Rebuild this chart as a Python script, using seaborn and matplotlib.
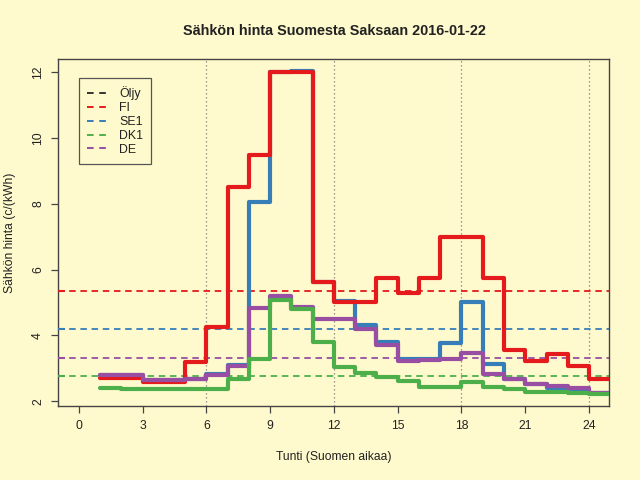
import numpy as np
import pandas as pd
import matplotlib
matplotlib.use("Agg")
import matplotlib.pyplot as plt
import seaborn as sns
from matplotlib.lines import Line2D
from matplotlib.transforms import blended_transform_factory

# ---- data ----
hours = list(range(1, 25))
FI = [2.71, 2.71, 2.59, 2.59, 3.19, 4.26, 8.51, 9.50, 12.00, 12.00, 5.63, 5.03,
      5.03, 5.76, 5.28, 5.76, 7.00, 7.00, 5.76, 3.57, 3.22, 3.45, 3.06, 2.67]
SE1 = [2.79, 2.79, 2.64, 2.64, 2.69, 2.83, 3.09, 8.06, 12.00, 12.03, 5.63, 5.06,
       4.32, 3.81, 3.29, 3.29, 3.76, 5.01, 3.12, 2.69, 2.54, 2.39, 2.33, 2.25]
DK1 = [2.39, 2.38, 2.37, 2.37, 2.36, 2.36, 2.68, 3.29, 5.08, 4.82, 3.79, 3.05,
       2.87, 2.75, 2.62, 2.44, 2.44, 2.60, 2.44, 2.37, 2.29, 2.27, 2.25, 2.22]
DE = [2.79, 2.79, 2.64, 2.64, 2.69, 2.81, 3.07, 4.83, 5.21, 4.87, 4.49, 4.49,
      4.20, 3.71, 3.23, 3.24, 3.29, 3.48, 2.82, 2.67, 2.54, 2.47, 2.39, 2.25]
mean_names = ["FI", "SE1", "DE", "DK1"]
mean_values = [5.353, 4.188, 3.325, 2.778]
legend_labels = ["Öljy", "FI", "SE1", "DK1", "DE"]
x_ticks = [0, 3, 6, 9, 12, 15, 18, 21, 24]
y_ticks = [2, 4, 6, 8, 10, 12]
grid_hours = [6, 12, 18, 24]

colors = {"Öljy": "#333333", "FI": "#E41A1C", "SE1": "#377EB8",
          "DK1": "#4DAF4A", "DE": "#984EA3"}
bg = "#FFFACD"

series = {"FI": FI, "SE1": SE1, "DK1": DK1, "DE": DE}
rows = []
for name, vals in series.items():
    # steps-post: each hour's price spans [h, h+1]; repeat last value to close the final step
    xs = hours + [hours[-1] + 1]
    ys = vals + [vals[-1]]
    for x, y in zip(xs, ys):
        rows.append({"hour": x, "price": y, "area": name})
df = pd.DataFrame(rows)

sns.set_theme(style="ticks", rc={"axes.facecolor": bg, "figure.facecolor": bg})
plt.rcParams["font.family"] = ["Liberation Sans", "DejaVu Sans"]

txt = "#222222"
fig = plt.figure(figsize=(6.4, 4.8), dpi=100)
ax = fig.add_axes([0.0911, 0.1542, 0.8612, 0.7223])
ax.set_facecolor(bg)

for gx in grid_hours:
    ax.axvline(gx, color="#7a7a7a", lw=0.9, ls=(0, (1, 2.2)), zorder=1)

trans = blended_transform_factory(ax.transAxes, ax.transData)
for name, m in zip(mean_names, mean_values):
    ax.axhline(m, color=colors[name], lw=1.3, ls=(0, (3.6, 2.6)), zorder=2)
    ax.hlines(m, 0, 0.013, transform=trans, color=colors[name], lw=1.5, zorder=3)

order = ["SE1", "FI", "DE", "DK1"]
sns.lineplot(data=df, x="hour", y="price", hue="area", hue_order=order,
             palette=colors, drawstyle="steps-post", lw=3.0, legend=False,
             estimator=None, sort=True, ax=ax, zorder=4)

ax.set_xlim(-0.96, 24.96)
ax.set_ylim(1.857, 12.395)
ax.set_xticks(x_ticks)
ax.set_yticks(y_ticks)
ax.set_xlabel("")
ax.set_ylabel("")
for s in ax.spines.values():
    s.set_visible(True)
    s.set_color("#444444")
    s.set_linewidth(1.0)
ax.tick_params(axis="both", direction="out", length=5.2, width=0.9,
               color="#444444", labelcolor=txt, labelsize=8.7, pad=5)
ax.tick_params(axis="y", labelrotation=90)
for lab in ax.get_yticklabels():
    lab.set_va("center")

handles = [Line2D([], [], color=colors[n], lw=1.4, ls=(0, (3.4, 2.9)))
           for n in legend_labels]
leg = ax.legend(handles, legend_labels, loc="upper left",
                bbox_to_anchor=(0.0376, 0.945), borderaxespad=0,
                fontsize=8.9, frameon=True, fancybox=False, framealpha=1,
                facecolor=bg, edgecolor="#555555", handlelength=1.6,
                handletextpad=1.0, labelspacing=0.15, borderpad=0.65)
leg.get_frame().set_linewidth(0.9)
for t in leg.get_texts():
    t.set_color(txt)

fig.text(0.522, 0.935, "Sähkön hinta Suomesta Saksaan 2016-01-22",
         ha="center", va="center", fontsize=10.4, fontweight="bold", color=txt)
fig.text(0.522, 1 - 457 / 480, "Tunti (Suomen aikaa)", ha="center", va="center",
         fontsize=8.7, color=txt)
fig.text(10.5 / 640, 1 - 233 / 480, "Sähkön hinta (c/(kWh)", ha="center",
         va="center", rotation=90, fontsize=8.7, color=txt)

fig.savefig("out.png", dpi=100, facecolor=bg)
